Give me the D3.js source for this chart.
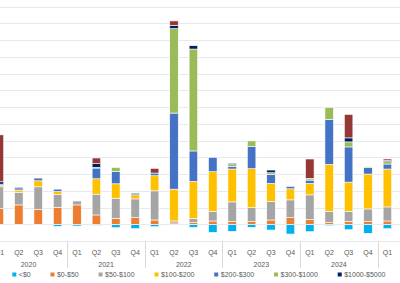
<!DOCTYPE html>
<html>
<head>
<meta charset="utf-8">
<script src="https://cdn.jsdelivr.net/npm/d3@7"></script>
<style>
  html, body { margin: 0; padding: 0; background: #fff; overflow: hidden; }
  svg { display: block; font-family: "Liberation Sans", Arial, sans-serif; }
</style>
</head>
<body>
<div id="chart"></div>
<script>
// Quarterly distribution by price bucket (one gridline = 50)
const years = ["2020", "2021", "2022", "2023", "2024", "2025"];
// 2025 Q2-Q4 only exist on the axis, they sit past the right edge of the window
const quarters = [
  "2020|Q1", "2020|Q2", "2020|Q3", "2020|Q4",
  "2021|Q1", "2021|Q2", "2021|Q3", "2021|Q4",
  "2022|Q1", "2022|Q2", "2022|Q3", "2022|Q4",
  "2023|Q1", "2023|Q2", "2023|Q3", "2023|Q4",
  "2024|Q1", "2024|Q2", "2024|Q3", "2024|Q4",
  "2025|Q1", "2025|Q2", "2025|Q3", "2025|Q4",
];
const buckets = ["<$0", "$0-$50", "$50-$100", "$100-$200", "$200-$300", "$300-$1000", "$1000-$5000", ">$5000"];
const colors = ["#00b0f0", "#ed7d31", "#a5a5a5", "#ffc000", "#4472c4", "#9bbb59", "#002060", "#953735"];

const below0 = [0, 0, 0, -6, -5, -3, -10, -13, -7, -2, -9, -24, -21, -9, -17, -29, -22, -4, -16, -27, -13];
const b0to50 = [48, 58, 45, 51, 58, 28, 18, 20, 13, 4, 5, 10, 8, 8, 13, 20, 15, 5, 9, 8, 10];
const b50to100 = [64, 37, 67, 38, 12, 62, 60, 56, 87, 6, 13, 28, 59, 42, 55, 53, 73, 34, 30, 38, 42];
const b100to200 = [4, 7, 18, 9, 2, 46, 43, 12, 45, 95, 110, 119, 98, 116, 54, 33, 34, 140, 87, 104, 113];
const b200to300 = [4, 4, 8, 7, 0, 32, 37, 5, 8, 227, 91, 43, 8, 66, 27, 7, 10, 134, 105, 19, 15];
const b300to1000 = [0, 0, 0, 0, 0, 2, 12, 0, 0, 252, 304, 0, 5, 17, 5, 0, 4, 36, 15, 3, 7];
const b1000to5000 = [7, 4, 0, 0, 0, 11, 0, 0, 0, 10, 10, 0, 4, 0, 8, 0, 1, 0, 12, 0, 3];
const above5000 = [140, 0, 0, 0, 0, 17, 0, 0, 14, 13, 0, 0, 0, 0, 0, 0, 58, 0, 70, 0, 5];

const yTicks = d3.range(-50, 651, 50);

const series = [below0, b0to50, b50to100, b100to200, b200to300, b300to1000, b1000to5000, above5000];

const width = 400;
const height = 283;

const svg = d3.select("#chart")
  .append("svg")
  .attr("width", width)
  .attr("height", height)
  .attr("viewBox", [0, 0, width, height]);

// Scales (the chart is wider than the window, left and right are cut off)
const step = 19.4;
const x = d3.scaleBand()
  .domain(quarters)
  .range([-10.3, -10.3 + quarters.length * step])
  .paddingInner(0.56)
  .paddingOuter(0.28);

const y = d3.scaleLinear()
  .domain([-50, 650])
  .range([241.1, 6.5]);

const cx = (q) => x(q) + x.bandwidth() / 2;

// Gridlines
svg.append("g")
  .selectAll("line")
  .data(yTicks)
  .join("line")
  .attr("x1", 0)
  .attr("x2", width)
  .attr("y1", (d) => Math.round(y(d)) + 0.5)
  .attr("y2", (d) => Math.round(y(d)) + 0.5)
  .attr("stroke", "#e8e8ef")
  .attr("stroke-width", 1);

// Stacked bars: positives go up from zero, negatives go down
const g = svg.append("g");
quarters.forEach((q, i) => {
  let up = 0;
  let down = 0;
  series.forEach((s, k) => {
    const v = s[i];
    if (!v) return;
    let y0, y1;
    if (v > 0) {
      y0 = up;
      y1 = up + v;
      up = y1;
    } else {
      y0 = down + v;
      y1 = down;
      down = y0;
    }
    g.append("rect")
      .attr("x", x(q))
      .attr("y", y(y1))
      .attr("width", x.bandwidth())
      .attr("height", y(y0) - y(y1))
      .attr("fill", colors[k])
      .attr("stroke", "#fff")
      .attr("stroke-width", 0.6);
  });
});

// Category axis: quarter row, year row, year separators
const groups = years.map((yr) => {
  const qs = quarters.filter((q) => q.startsWith(yr + "|"));
  return {
    year: yr,
    left: cx(qs[0]) - step / 2,
    right: cx(qs[qs.length - 1]) + step / 2,
  };
});

const qRow = svg.append("g")
  .attr("transform", "translate(0,252.5)")
  .attr("fill", "#595959")
  .style("font-size", "7px");

// only labels that reach into the window
qRow.selectAll("text")
  .data(quarters.filter((q) => cx(q) - 5 < width))
  .join("text")
  .attr("x", cx)
  .attr("dy", "0.35em")
  .attr("text-anchor", "middle")
  .text((d) => d.split("|")[1]);

const yearRow = svg.append("g")
  .attr("transform", "translate(0,265)")
  .attr("fill", "#595959")
  .style("font-size", "7px");

yearRow.selectAll("text")
  .data(groups.filter((d) => (d.left + d.right) / 2 < width))
  .join("text")
  .attr("x", (d) => (d.left + d.right) / 2)
  .attr("dy", "0.35em")
  .attr("text-anchor", "middle")
  .text((d) => d.year);

svg.append("g")
  .selectAll("line")
  .data(groups.flatMap((d) => [d.left, d.right]))
  .join("line")
  .attr("x1", (d) => Math.round(d) + 0.5)
  .attr("x2", (d) => Math.round(d) + 0.5)
  .attr("y1", 241)
  .attr("y2", 268)
  .attr("stroke", "#d9d9d9");

// Legend
const legend = svg.append("g")
  .attr("transform", "translate(0,274.5)")
  .style("font-size", "7px");

let lx = 14.3;
buckets.forEach((b, k) => {
  legend.append("rect")
    .attr("x", lx - 2)
    .attr("y", -2)
    .attr("width", 4)
    .attr("height", 4)
    .attr("fill", colors[k]);
  const t = legend.append("text")
    .attr("x", lx + 4.5)
    .attr("y", 0)
    .attr("dy", "0.35em")
    .attr("fill", "#595959")
    .text(b);
  lx = lx + 4.5 + t.node().getComputedTextLength() + 21.8;
});
</script>
</body>
</html>
